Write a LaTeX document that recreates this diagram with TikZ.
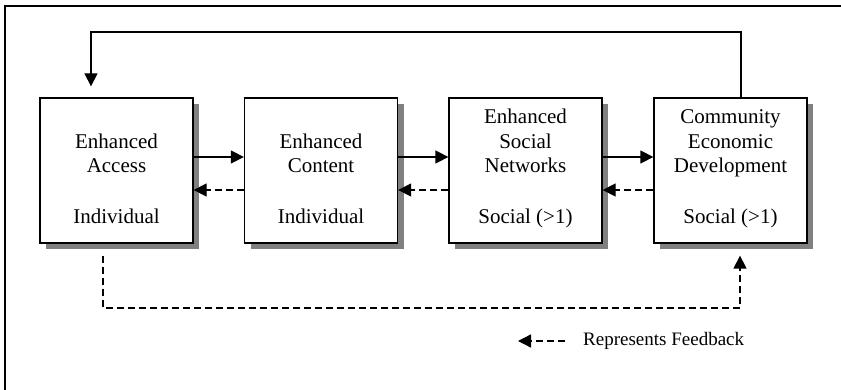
\documentclass[tikz,border=0pt]{standalone}
\usepackage{fontspec}
\setmainfont{Liberation Serif}
\usetikzlibrary{arrows.meta,shadows}

\begin{document}
\begin{tikzpicture}[x=1pt,y=-1pt,>={Triangle[length=13pt,width=13pt]},
		stagebox/.style={shape=rectangle,draw,line width=1.3pt,fill=white,
			minimum width=153pt,minimum height=145pt,
			drop shadow={shadow xshift=6pt,shadow yshift=-6pt,fill=black!50,opacity=1}},
		title/.style={anchor=south,align=center,inner sep=0pt,text depth=5pt,
			font=\fontsize{21}{24.5}\selectfont},
		level/.style={anchor=base,inner sep=0pt,font=\fontsize{21}{24.5}\selectfont},
		link/.style={->,line width=1.3pt},
		feedback/.style={->,line width=1.3pt,dash pattern=on 7pt off 4pt}]
		\clip (0,0) rectangle (841,390);
		% outer frame
		\draw[line width=1.5pt] (5,6) rectangle (900,450);

		% create the nodes
		\node[stagebox] (access) at (116.5,170.5) {};
		\node[stagebox] (content) at (321,170.5) {};
		\node[stagebox] (networks) at (525.5,170.5) {};
		\node[stagebox] (community) at (730.5,170.5) {};

		\node[title] (accesstitle) at (116.5,178) {Enhanced\\Access};
		\node[title] (contenttitle) at (321,178) {Enhanced\\Content};
		\node[title] (networkstitle) at (525.5,178) {Enhanced\\Social\\Networks};
		\node[title] (communitytitle) at (730.5,178) {Community\\Economic\\Development};

		\node[level] (accesslevel) at (116.5,224) {Individual};
		\node[level] (contentlevel) at (321,224) {Individual};
		\node[level] (networkslevel) at (525.5,224) {Social (>1)};
		\node[level] (communitylevel) at (730.5,224) {Social (>1)};

		% helper coordinates
		\coordinate (solidy) at (0,157);
		\coordinate (dashy) at (0,190);
		\coordinate (topright) at (741,32);
		\coordinate (topleft) at (91,32);
		\coordinate (lowleft) at (103,308);
		\coordinate (lowright) at (740,308);

		% connect the nodes
		\draw[link] (access.east |- solidy) -- (content.west |- solidy);
		\draw[link] (content.east |- solidy) -- (networks.west |- solidy);
		\draw[link] (networks.east |- solidy) -- (community.west |- solidy);

		\draw[feedback] (content.west |- dashy) -- (access.east |- dashy);
		\draw[feedback] (networks.west |- dashy) -- (content.east |- dashy);
		\draw[feedback] (community.west |- dashy) -- (networks.east |- dashy);

		\draw[link,shorten >=11pt] (community.north -| topright) -- (topright)
			-- (topleft) -- (access.north -| topleft);
		\draw[feedback,shorten <=12pt,shorten >=12pt] (access.south -| lowleft)
			-- (lowleft) -- (lowright) -- (community.south -| lowright);

		% legend
		\coordinate (legendstart) at (565,341);
		\coordinate (legendend) at (518,341);
		\draw[feedback] (legendstart) -- (legendend);
		\node[anchor=west,inner sep=0pt,font=\fontsize{19}{22}\selectfont]
			(legendtext) at (583,341) {Represents Feedback};

	\end{tikzpicture}
\end{document}
